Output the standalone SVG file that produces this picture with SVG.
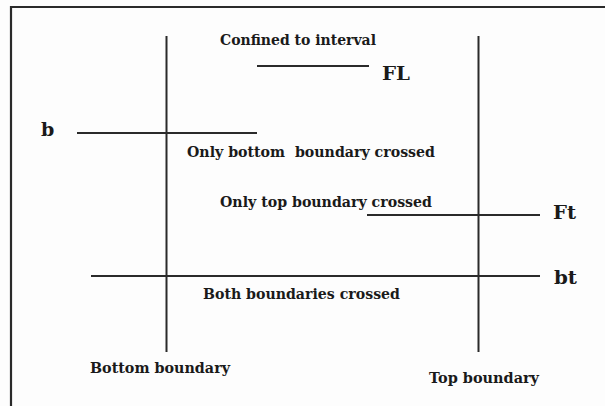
<svg xmlns="http://www.w3.org/2000/svg" width="605" height="406" viewBox="0 0 605 406">
<style>
.bg{fill:#fdfdfd}
.frame{stroke:#2a2a2a;stroke-width:2.2;fill:none}
.ln{stroke:#2a2a2a;stroke-width:2;fill:none}
.t{font-family:"DejaVu Serif","Liberation Serif",serif;font-weight:bold;font-size:14px;fill:#1a1a1a}
.lbl{font-family:"DejaVu Serif","Liberation Serif",serif;font-weight:bold;font-size:19px;fill:#1a1a1a}
</style>
<rect class="bg" x="0" y="0" width="605" height="406"/>
<g id="frame">
<path class="frame" d="M11,406 V7 H605"/>
</g>
<g id="connectors">
<line class="ln" x1="166.5" y1="36" x2="166.5" y2="352"/>
<line class="ln" x1="478.5" y1="36" x2="478.5" y2="352"/>
<line class="ln" x1="257" y1="66" x2="369" y2="66"/>
<line class="ln" x1="77" y1="133" x2="257" y2="133"/>
<line class="ln" x1="367" y1="215" x2="540" y2="215"/>
<line class="ln" x1="91" y1="276" x2="540" y2="276"/>
</g>
<g id="label-confined"><text class="t" x="220" y="45" textLength="156" lengthAdjust="spacingAndGlyphs">Confined to interval</text></g>
<g id="label-FL"><text class="lbl" x="382" y="80" textLength="28" lengthAdjust="spacingAndGlyphs">FL</text></g>
<g id="label-b"><text class="lbl" x="41" y="136">b</text></g>
<g id="label-onlybottom"><text class="t" x="187" y="157" textLength="248" lengthAdjust="spacingAndGlyphs" xml:space="preserve">Only bottom  boundary crossed</text></g>
<g id="label-onlytop"><text class="t" x="220" y="207" textLength="212" lengthAdjust="spacingAndGlyphs">Only top boundary crossed</text></g>
<g id="label-Ft"><text class="lbl" x="553" y="219" textLength="23" lengthAdjust="spacingAndGlyphs">Ft</text></g>
<g id="label-bt"><text class="lbl" x="554" y="284" textLength="23" lengthAdjust="spacingAndGlyphs">bt</text></g>
<g id="label-both"><text class="t" x="203" y="299" textLength="197" lengthAdjust="spacingAndGlyphs">Both boundaries crossed</text></g>
<g id="label-bottomboundary"><text class="t" x="90" y="373" textLength="140" lengthAdjust="spacingAndGlyphs">Bottom boundary</text></g>
<g id="label-topboundary"><text class="t" x="429" y="383" textLength="110" lengthAdjust="spacingAndGlyphs">Top boundary</text></g>
</svg>
